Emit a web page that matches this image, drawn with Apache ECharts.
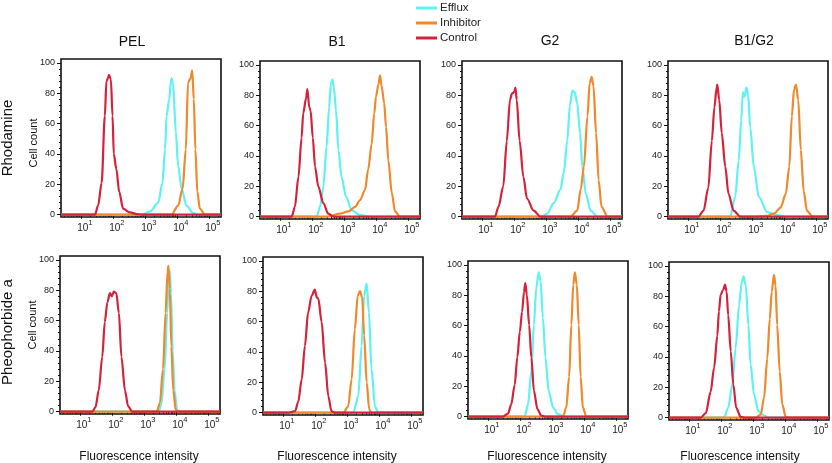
<!DOCTYPE html>
<html><head><meta charset="utf-8">
<script src="https://cdn.jsdelivr.net/npm/echarts@6/dist/echarts.min.js"></script>
<style>html,body{margin:0;padding:0;background:#fff}#c{width:832px;height:463px}</style>
</head><body><div id="c"></div>
<script>
// ---------- data ----------
const panelTitles = ['PEL', 'B1', 'G2', 'B1/G2'];
const rowLabels = ['Rhodamine', 'Pheophorbide a'];
const seriesNames = ['Efflux', 'Inhibitor', 'Control'];
const xTickExponents = [1, 2, 3, 4, 5];          // labels 10^1 .. 10^5
const yTickValues = [0, 20, 40, 60, 80, 100];
const xAxisTitle = 'Fluorescence intensity';
const yAxisTitle = 'Cell count';

// curves: [log10(fluorescence), cell count]
// Rhodamine row
const rhoPEL_efflux = [[0.38,0],[2.89,0],[3.16,2],[3.42,8],[3.55,21],[3.63,43],[3.68,65],[3.76,76],[3.83,90],[3.88,87],[3.97,54],[4.04,32],[4.15,17],[4.30,6],[4.51,1],[4.72,0],[5.38,0]];
const rhoPEL_inhib  = [[0.38,0],[3.83,0],[4.04,6],[4.18,17],[4.28,43],[4.35,87],[4.43,90],[4.48,95],[4.53,76],[4.58,43],[4.64,15],[4.72,4],[4.88,0],[5.38,0]];
const rhoPEL_ctrl   = [[0.38,0],[1.44,0],[1.54,6],[1.65,21],[1.75,65],[1.80,88],[1.85,90],[1.88,92],[1.94,89],[1.99,65],[2.03,40],[2.11,30],[2.20,15],[2.32,4],[2.53,1.5],[2.79,0.3],[2.95,0],[5.38,0]];

const rhoB1_efflux = [[0.38,0],[2.15,0],[2.255,6.5],[2.36,20],[2.46,46],[2.54,72],[2.59,87],[2.64,90.5],[2.69,85],[2.755,70],[2.83,44],[2.93,26],[3.07,13],[3.245,4.4],[3.505,1],[3.92,0],[5.38,0]];
const rhoB1_inhib  = [[0.38,0],[2.46,0],[2.88,2],[3.14,3.5],[3.35,6.5],[3.51,11],[3.66,17.6],[3.76,31],[3.87,48],[3.95,68],[4.005,79],[4.08,87],[4.13,93],[4.18,86],[4.26,75],[4.32,59],[4.39,37],[4.50,15.5],[4.60,3.5],[4.755,0],[5.38,0]];
const rhoB1_ctrl   = [[0.38,0],[1.37,0],[1.47,6.5],[1.58,26],[1.68,52],[1.73,68],[1.82,78],[1.86,84],[1.92,72],[1.96,70],[2.03,52],[2.10,33],[2.20,20],[2.36,9],[2.51,2],[2.67,0],[5.38,0]];

const rhoG2_efflux = [[0.38,0],[2.88,0],[3.04,2],[3.25,9],[3.46,18],[3.56,29],[3.67,50],[3.75,73],[3.83,83],[3.90,82],[3.98,75],[4.07,55],[4.14,33],[4.25,15],[4.40,4],[4.61,0],[5.38,0]];
const rhoG2_inhib  = [[0.38,0],[3.77,0],[3.98,4],[4.09,18],[4.19,33],[4.30,66],[4.37,88],[4.43,92],[4.49,86],[4.57,55],[4.65,24],[4.74,6.5],[4.93,0],[5.38,0]];
const rhoG2_ctrl   = [[0.38,0],[1.41,0],[1.52,6.5],[1.67,20],[1.78,50],[1.88,77],[1.94,81],[2.01,82],[2.05,85],[2.09,77],[2.18,50],[2.30,26],[2.41,12],[2.62,4],[2.83,0],[5.38,0]];

const rhoBG_efflux = [[0.38,0],[2.32,0],[2.48,13],[2.59,37],[2.67,64],[2.72,82],[2.77,79],[2.83,85],[2.88,81],[2.95,59],[3.06,33],[3.22,13],[3.48,3],[3.79,1],[4.11,0],[5.38,0]];
const rhoBG_inhib  = [[0.38,0],[3.06,0],[3.48,0.5],[3.69,2],[3.90,6],[4.06,15],[4.17,33],[4.25,66],[4.32,84],[4.38,87],[4.45,77],[4.53,44],[4.62,17],[4.72,4],[4.90,0],[5.38,0]];
const rhoBG_ctrl   = [[0.38,0],[1.33,0],[1.49,4],[1.64,19],[1.75,50],[1.83,72],[1.90,85],[1.92,87],[1.98,77],[2.06,55],[2.17,33],[2.27,15],[2.43,4],[2.64,0],[5.38,0]];

// Pheophorbide a row
const pheoPEL_efflux = [[0.38,0],[3.45,0],[3.55,5],[3.65,28],[3.73,65],[3.78,90],[3.81,93],[3.85,78],[3.90,40],[3.96,14],[4.04,1],[4.12,0],[5.38,0]];
const pheoPEL_inhib  = [[0.38,0],[3.40,0],[3.50,5.5],[3.60,28],[3.68,65],[3.74,92],[3.77,96],[3.81,81],[3.86,43],[3.92,14],[4.00,1],[4.07,0],[5.38,0]];
const pheoPEL_ctrl   = [[0.38,0],[1.39,0],[1.49,3],[1.59,14],[1.70,36],[1.78,59],[1.86,72],[1.94,78],[2.00,76],[2.06,79],[2.14,78],[2.22,65],[2.30,36],[2.41,14],[2.51,3.5],[2.64,0],[5.38,0]];

const pheoB1_efflux = [[0.38,0],[3.20,0],[3.36,11],[3.46,44],[3.54,77],[3.62,85],[3.69,66],[3.77,29],[3.88,4],[3.98,0],[5.38,0]];
const pheoB1_inhib  = [[0.38,0],[2.89,0],[3.04,4],[3.15,22],[3.25,55],[3.34,77],[3.41,80],[3.48,76],[3.54,51],[3.62,20],[3.70,2],[3.77,0],[5.38,0]];
const pheoB1_ctrl   = [[0.38,0],[1.17,0],[1.38,1],[1.48,7],[1.59,22],[1.69,44],[1.79,66],[1.90,77],[2.00,81],[2.06,76],[2.11,75],[2.21,60],[2.32,33],[2.42,11],[2.52,1],[2.63,0],[5.38,0]];

const pheoG2_efflux = [[0.38,0],[2.15,0],[2.255,8],[2.36,30],[2.44,60.5],[2.51,84.5],[2.59,95],[2.65,89],[2.72,65],[2.80,39],[2.90,17],[3.04,6],[3.19,1.7],[3.40,0],[5.38,0]];
const pheoG2_inhib  = [[0.38,0],[3.35,0],[3.45,6],[3.54,26],[3.61,60.5],[3.67,87],[3.72,95],[3.78,87],[3.84,60.5],[3.90,26],[3.97,6],[4.08,0],[5.38,0]];
const pheoG2_ctrl   = [[0.38,0],[1.47,0],[1.63,2],[1.73,8],[1.84,21],[1.92,39],[2.00,56],[2.07,69],[2.13,82],[2.17,88],[2.22,80],[2.29,60.5],[2.36,39],[2.44,17],[2.55,5],[2.67,0.7],[2.83,0],[5.38,0]];

const pheoBG_efflux = [[0.38,0],[2.10,0],[2.23,6.5],[2.36,21.8],[2.46,45.8],[2.57,74],[2.65,89],[2.71,93],[2.78,87],[2.86,61],[2.93,35],[3.04,15],[3.17,4.4],[3.32,1.8],[3.505,0],[5.38,0]];
const pheoBG_inhib  = [[0.38,0],[3.09,0],[3.245,2],[3.35,13],[3.45,39],[3.53,65],[3.59,83],[3.66,94],[3.71,87],[3.76,61],[3.84,30.5],[3.92,8.7],[4.03,0.5],[4.13,0],[5.38,0]];
const pheoBG_ctrl   = [[0.38,0],[1.37,0],[1.53,3],[1.68,17],[1.79,33],[1.89,54],[1.94,70],[1.995,81],[2.07,84],[2.13,87.6],[2.18,83],[2.23,67.5],[2.31,43.6],[2.39,21.8],[2.48,6.5],[2.62,0.5],[2.78,0],[5.38,0]];

const panelCurves = [
  [rhoPEL_efflux, rhoPEL_inhib, rhoPEL_ctrl],
  [rhoB1_efflux, rhoB1_inhib, rhoB1_ctrl],
  [rhoG2_efflux, rhoG2_inhib, rhoG2_ctrl],
  [rhoBG_efflux, rhoBG_inhib, rhoBG_ctrl],
  [pheoPEL_efflux, pheoPEL_inhib, pheoPEL_ctrl],
  [pheoB1_efflux, pheoB1_inhib, pheoB1_ctrl],
  [pheoG2_efflux, pheoG2_inhib, pheoG2_ctrl],
  [pheoBG_efflux, pheoBG_inhib, pheoBG_ctrl]
];

// ---------- layout / style ----------
const colors = ['#5ef2f2', '#f0882c', '#d6213a'];
const boxes = [ [61,59], [260,61], [462,61], [668,61], [60,256], [263,257], [468,261], [669,262] ];
const boxW = 160, boxH = 158;
const xMin = 0.38, xMax = 5.38, yMin = -1.5, yMax = 102.5;
const titleCenters = [[132,42],[337,42],[550,41],[754,41]];
const xTitleCenters = [139,337,547,740];
const FONT = 'Liberation Sans, Arial, Helvetica, sans-serif';

const xMinorTicks = [];
for (let k = 0; k <= 5; k++) for (let m = 2; m <= 9; m++) {
  const v = k + Math.log10(m);
  if (v > xMin && v < xMax) xMinorTicks.push(v);
}
const yMinorTicks = [];
for (let v = 0; v <= 100; v += 4) yMinorTicks.push(v);

const grids = [], xAxes = [], yAxes = [], series = [];
boxes.forEach((b, i) => {
  grids.push({ left: b[0], top: b[1], width: boxW, height: boxH, show: true,
    borderColor: '#111', borderWidth: 1.6, backgroundColor: 'rgba(0,0,0,0)' });
  xAxes.push({ gridIndex: i, type: 'value', position: 'bottom', min: xMin, max: xMax,
    axisLine: { show: false }, splitLine: { show: false },
    axisTick: { show: true, length: 4, customValues: xTickExponents, lineStyle: { color: '#111', width: 1 } },
    axisLabel: { show: true, customValues: xTickExponents, margin: 2,
      formatter: v => '{b|10}{s|' + Math.round(v) + '}',
      rich: { b: { fontSize: 10, color: '#222', fontFamily: FONT, padding: [4, 0, 0, 8] },
              s: { fontSize: 7.5, color: '#222', fontFamily: FONT, verticalAlign: 'top', lineHeight: 8 } } } });
  xAxes.push({ gridIndex: i, type: 'value', position: 'bottom', min: xMin, max: xMax,
    axisLine: { show: false }, splitLine: { show: false },
    axisTick: { show: true, length: 2, customValues: xMinorTicks, lineStyle: { color: '#111', width: 1 } },
    axisLabel: { show: false } });
  yAxes.push({ gridIndex: i, type: 'value', position: 'left', min: yMin, max: yMax,
    axisLine: { show: false }, splitLine: { show: false },
    axisTick: { show: true, length: 4, customValues: yTickValues, lineStyle: { color: '#111', width: 1 } },
    axisLabel: { show: true, customValues: yTickValues, margin: 6, fontSize: 9, color: '#222', fontFamily: FONT } });
  yAxes.push({ gridIndex: i, type: 'value', position: 'left', min: yMin, max: yMax,
    axisLine: { show: false }, splitLine: { show: false },
    axisTick: { show: true, length: 2, customValues: yMinorTicks, lineStyle: { color: '#111', width: 1 } },
    axisLabel: { show: false } });
  panelCurves[i].forEach((curve, s) => {
    series.push({ name: seriesNames[s], type: 'line', xAxisIndex: 2 * i, yAxisIndex: 2 * i,
      data: curve, showSymbol: false, symbol: 'none', smooth: 0.3, smoothMonotone: 'x',
      color: colors[s], lineStyle: { width: 2.2, color: colors[s] }, z: 2 + s, silent: true, animation: false });
  });
});

const graphics = [];
panelTitles.forEach((t, i) => graphics.push({ type: 'text', x: titleCenters[i][0], y: titleCenters[i][1],
  style: { text: t, fill: '#111', font: '14px ' + FONT, textAlign: 'center', textVerticalAlign: 'middle' } }));
xTitleCenters.forEach(cx => graphics.push({ type: 'text', x: cx, y: 457,
  style: { text: xAxisTitle, fill: '#111', font: '12px ' + FONT, textAlign: 'center', textVerticalAlign: 'middle' } }));
[[8, 138], [8, 332]].forEach((p, i) => graphics.push({ type: 'text', x: p[0], y: p[1], rotation: Math.PI / 2,
  style: { text: rowLabels[i], fill: '#111', font: '15px ' + FONT, textAlign: 'center', textVerticalAlign: 'middle' } }));
[[34, 143], [33, 325]].forEach(p => graphics.push({ type: 'text', x: p[0], y: p[1], rotation: Math.PI / 2,
  style: { text: yAxisTitle, fill: '#111', font: '11px ' + FONT, textAlign: 'center', textVerticalAlign: 'middle' } }));

const chart = echarts.init(document.getElementById('c'), null, { renderer: 'canvas' });
chart.setOption({
  backgroundColor: '#fff',
  animation: false,
  legend: { data: seriesNames, orient: 'vertical', left: 411, top: -3, itemWidth: 21, itemHeight: 3, itemGap: 3,
    icon: 'rect', textStyle: { fontSize: 11.5, color: '#222', fontFamily: FONT, padding: [0, 0, 0, -2] } },
  grid: grids, xAxis: xAxes, yAxis: yAxes, series: series, graphic: graphics
});
</script></body></html>
